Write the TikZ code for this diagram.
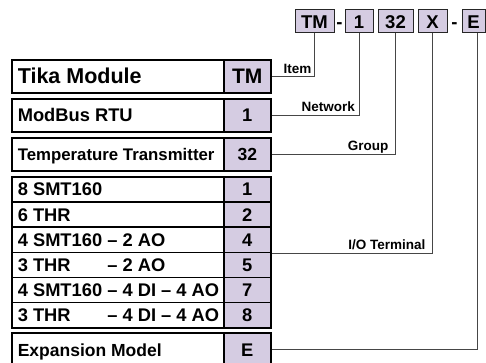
\documentclass[tikz,border=0pt]{standalone}
\usepackage{fontspec}
\setmainfont{Liberation Sans}
\definecolor{cellfill}{RGB}{213,204,226}
\definecolor{linegray}{RGB}{70,70,70}
\newcommand{\lefttxt}[1]{\makebox[200pt][l]{#1}}
\tikzset{
  tbox/.style={draw=black!85, line width=1pt, fill=cellfill, minimum height=23, inner sep=0,
    text height=13.2pt, text depth=0pt, font=\fontsize{18.5}{20}\bfseries\selectfont},
  tdash/.style={inner sep=0, anchor=base, font=\fontsize{18.5}{20}\bfseries\selectfont},
  lcell/.style={draw=black, line width=1.6pt, fill=white, minimum width=212, inner xsep=6, inner ysep=0,
    anchor=north west, text depth=0pt},
  ccell/.style={draw=black, line width=1.6pt, fill=cellfill, minimum width=47, inner sep=0,
    anchor=north west, text depth=0pt},
  conn/.style={draw=linegray, line width=0.9pt},
  lab/.style={inner sep=0, anchor=base east, font=\fontsize{13.5}{15}\bfseries\selectfont},
  rowfont/.style={font=\fontsize{18.3}{20}\bfseries\selectfont, text height=13.1pt},
  bigfont/.style={font=\fontsize{21.5}{23}\bfseries\selectfont, text height=15.4pt},
  tempfont/.style={font=\fontsize{16.8}{19}\bfseries\selectfont, text height=12pt},
  midfont/.style={font=\fontsize{17.5}{19}\bfseries\selectfont, text height=12.5pt}
}
\begin{document}
\begin{tikzpicture}[x=1pt,y=-1pt]
\useasboundingbox (0,0) rectangle (486,363);
\clip (0,0) rectangle (486,363);
\fill[white] (0,0) rectangle (486,363);

% top code boxes
\node[tbox, minimum width=39] (tTM) at (314.5,21.5) {TM};
\node[tdash] (d1) at (339.5,28.1) {-};
\node[tbox, minimum width=28] (t1) at (359,21.5) {1};
\node[tbox, minimum width=35] (t32) at (395.5,21.5) {32};
\node[tbox, minimum width=29] (tX) at (432.5,21.5) {X};
\node[tdash] (d2) at (454.5,28.1) {-};
\node[tbox, minimum width=23] (tE) at (473.5,21.5) {E};

% left table
\node[lcell, minimum height=33, bigfont] (tika) at (11,59) {\lefttxt{Tika Module}};
\node[ccell, minimum height=33, font=\fontsize{21}{23}\bfseries\selectfont, text height=15pt] (tikac) at (223,59) {TM};

\node[lcell, minimum height=33, rowfont] (mod) at (11,98) {\lefttxt{ModBus RTU}};
\node[ccell, minimum height=33, rowfont] (modc) at (223,98) {1};

\node[lcell, minimum height=33, tempfont] (temp) at (11,137) {\lefttxt{Temperature Transmitter}};
\node[ccell, minimum height=33, midfont] (tempc) at (223,137) {32};

\node[lcell, minimum height=25.17, rowfont] (g1) at (11,176) {\lefttxt{8 SMT160}};
\node[ccell, minimum height=25.17, rowfont] (g1c) at (223,176) {1};
\node[lcell, minimum height=25.17, rowfont] (g2) at (11,201.17) {\lefttxt{6 THR}};
\node[ccell, minimum height=25.17, rowfont] (g2c) at (223,201.17) {2};
\node[lcell, minimum height=25.17, rowfont] (g3) at (11,226.33) {\lefttxt{4 SMT160 – 2 AO}};
\node[ccell, minimum height=25.17, rowfont] (g3c) at (223,226.33) {4};
\node[lcell, minimum height=25.17, rowfont] (g4) at (11,251.5) {\lefttxt{\rlap{3 THR}\phantom{4 SMT160} – 2 AO}};
\node[ccell, minimum height=25.17, rowfont] (g4c) at (223,251.5) {5};
\node[lcell, minimum height=25.17, rowfont] (g5) at (11,276.67) {\lefttxt{4 SMT160 – 4 DI – 4 AO}};
\node[ccell, minimum height=25.17, rowfont] (g5c) at (223,276.67) {7};
\node[lcell, minimum height=25.17, rowfont] (g6) at (11,301.83) {\lefttxt{\rlap{3 THR}\phantom{4 SMT160} – 4 DI – 4 AO}};
\node[ccell, minimum height=25.17, rowfont] (g6c) at (223,301.83) {8};

\node[lcell, minimum height=34, midfont] (exp) at (11,332) {\lefttxt{Expansion Model}};
\node[ccell, minimum height=34, rowfont] (expc) at (223,332) {E};

% connectors
\draw[conn] (tikac.east) -| (tTM.south);
\draw[conn] (modc.east) -| (t1.south);
\draw[conn] (tempc.east) -| (t32.south);
\draw[conn] (g3c.south east) -| (tX.south);
\draw[conn] (expc.east) -| ([xshift=3.5pt]tE.south);

% labels
\node[lab] (litem) at ([xshift=-3pt,yshift=3pt]tikac.east -| tTM.south) {Item};
\node[lab] (lnet) at ([xshift=-4pt,yshift=3.5pt]modc.east -| t1.south) {Network};
\node[lab] (lgroup) at ([xshift=-7pt,yshift=4pt]tempc.east -| t32.south) {Group};
\node[lab] (lio) at ([xshift=-7pt,yshift=4pt]g3c.south east -| tX.south) {I/O Terminal};
\end{tikzpicture}
\end{document}
